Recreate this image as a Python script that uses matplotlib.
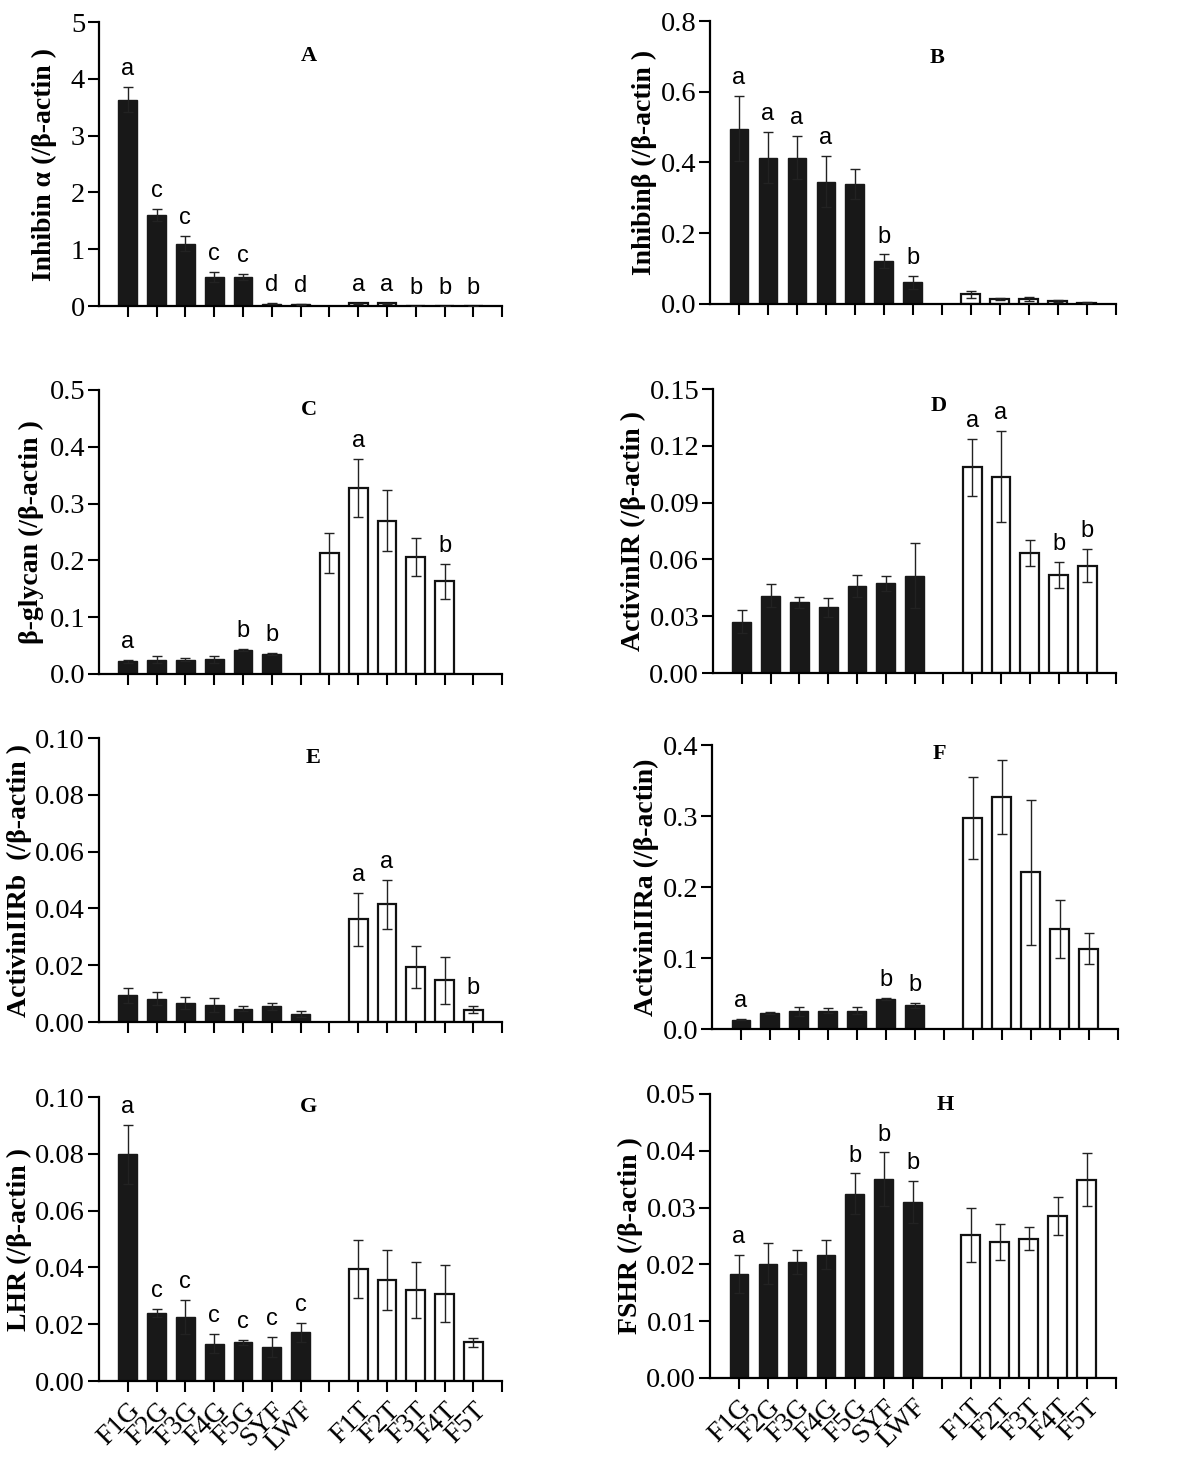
import numpy as np
import matplotlib
matplotlib.use("Agg")
import matplotlib.pyplot as plt
from matplotlib.ticker import FormatStrFormatter

# group names
black_names = ["F1G", "F2G", "F3G", "F4G", "F5G", "SYF", "LWF"]
white_names = ["F1T", "F2T", "F3T", "F4T", "F5T"]

# A  Inhibin alpha
a_black = [3.63, 1.60, 1.10, 0.51, 0.51, 0.04, 0.03]
a_black_err = [0.22, 0.11, 0.13, 0.09, 0.05, 0.01, 0.01]
a_white = [0.05, 0.05, 0.004, 0.004, 0.004]
a_white_err = [0.01, 0.01, 0.002, 0.002, 0.002]
a_black_sig = ["a", "c", "c", "c", "c", "d", "d"]
a_white_sig = ["a", "a", "b", "b", "b"]

# B  Inhibin beta
b_black = [0.495, 0.414, 0.414, 0.346, 0.339, 0.121, 0.061]
b_black_err = [0.092, 0.072, 0.060, 0.072, 0.043, 0.019, 0.018]
b_white = [0.028, 0.013, 0.015, 0.008, 0.004]
b_white_err = [0.010, 0.003, 0.006, 0.003, 0.001]
b_black_sig = ["a", "a", "a", "a", "", "b", "b"]
b_white_sig = ["", "", "", "", ""]

# C  beta-glycan (no LWF bar)
c_black = [0.022, 0.025, 0.025, 0.026, 0.042, 0.035]
c_black_err = [0.002, 0.006, 0.003, 0.006, 0.002, 0.002]
c_white = [0.213, 0.327, 0.270, 0.206, 0.163]
c_white_err = [0.036, 0.051, 0.053, 0.033, 0.031]
c_black_sig = ["a", "", "", "", "b", "b"]
c_white_sig = ["", "a", "", "", "b"]

# D  ActivinIR
d_black = [0.0271, 0.0408, 0.0373, 0.0348, 0.046, 0.0475, 0.0515]
d_black_err = [0.006, 0.006, 0.003, 0.005, 0.006, 0.004, 0.017]
d_white = [0.1087, 0.1037, 0.0633, 0.0517, 0.0568]
d_white_err = [0.015, 0.024, 0.007, 0.007, 0.0086]
d_black_sig = ["", "", "", "", "", "", ""]
d_white_sig = ["a", "a", "", "b", "b"]

# E  ActivinIIRb
e_black = [0.0094, 0.0082, 0.0067, 0.0059, 0.0047, 0.0055, 0.0029]
e_black_err = [0.0027, 0.0022, 0.002, 0.0024, 0.001, 0.0012, 0.001]
e_white = [0.0362, 0.0414, 0.0194, 0.0147, 0.0044]
e_white_err = [0.0093, 0.0086, 0.0074, 0.0082, 0.0013]
e_black_sig = ["", "", "", "", "", "", ""]
e_white_sig = ["a", "a", "", "", "b"]

# F  ActivinIIRa
f_black = [0.013, 0.0225, 0.025, 0.026, 0.026, 0.0427, 0.0333]
f_black_err = [0.001, 0.002, 0.006, 0.003, 0.005, 0.0015, 0.004]
f_white = [0.297, 0.3265, 0.221, 0.1407, 0.113]
f_white_err = [0.058, 0.052, 0.102, 0.041, 0.0216]
f_black_sig = ["a", "", "", "", "", "b", "b"]
f_white_sig = ["", "", "", "", ""]

# G  LHR
g_black = [0.0798, 0.024, 0.0226, 0.0132, 0.0136, 0.0121, 0.0171]
g_black_err = [0.0105, 0.0014, 0.0059, 0.0033, 0.0008, 0.0035, 0.0035]
g_white = [0.0394, 0.0355, 0.032, 0.0308, 0.0136]
g_white_err = [0.0102, 0.0106, 0.0099, 0.010, 0.0016]
g_black_sig = ["a", "c", "c", "c", "c", "c", "c"]
g_white_sig = ["", "", "", "", ""]

# H  FSHR
h_black = [0.0183, 0.0201, 0.0204, 0.0217, 0.0324, 0.035, 0.031]
h_black_err = [0.0034, 0.0036, 0.0021, 0.0026, 0.0036, 0.0047, 0.0037]
h_white = [0.0252, 0.0239, 0.0245, 0.0285, 0.0349]
h_white_err = [0.0047, 0.0032, 0.002, 0.0034, 0.0047]
h_black_sig = ["a", "", "", "", "b", "b", "b"]
h_white_sig = ["", "", "", "", ""]

serif = ["Liberation Serif", "DejaVu Serif"]
sans = ["Liberation Sans", "DejaVu Sans"]

fig = plt.figure(figsize=(12, 14.6), dpi=100)

# panel settings: axes rect, data, y range, ylabel, ylabel x (right edge), letter position
panels = [
    ("A", [0.0825, 0.7904, 0.336, 0.1945], a_black, a_black_err, a_white, a_white_err, a_black_sig, a_white_sig,
     5, 1, "%d", "Inhibin α (/β-actin )", -0.104, (0.52, 0.88)),
    ("B", [0.5917, 0.7918, 0.338, 0.1938], b_black, b_black_err, b_white, b_white_err, b_black_sig, b_white_sig,
     0.8, 0.2, "%.1f", "Inhibinβ (/β-actin )", -0.132, (0.56, 0.87)),
    ("C", [0.0825, 0.5384, 0.336, 0.1945], c_black, c_black_err, c_white, c_white_err, c_black_sig, c_white_sig,
     0.5, 0.1, "%.1f", "β-glycan (/β-actin )", -0.136, (0.52, 0.93)),
    ("D", [0.5942, 0.5390, 0.336, 0.1945], d_black, d_black_err, d_white, d_white_err, d_black_sig, d_white_sig,
     0.15, 0.03, "%.2f", "ActivinIR (/β-actin )", -0.157, (0.56, 0.94)),
    ("E", [0.0825, 0.3000, 0.336, 0.1945], e_black, e_black_err, e_white, e_white_err, e_black_sig, e_white_sig,
     0.10, 0.02, "%.2f", "ActivinIIRb  (/β-actin )", -0.129, (0.53, 0.93)),
    ("F", [0.5933, 0.2952, 0.338, 0.1945], f_black, f_black_err, f_white, f_white_err, f_black_sig, f_white_sig,
     0.4, 0.1, "%.1f", "ActivinIIRa (/β-actin)", -0.113, (0.56, 0.97)),
    ("G", [0.0825, 0.0541, 0.336, 0.1945], g_black, g_black_err, g_white, g_white_err, g_black_sig, g_white_sig,
     0.10, 0.02, "%.2f", "LHR (/β-actin )", -0.155, (0.52, 0.965)),
    ("H", [0.5917, 0.0562, 0.338, 0.1945], h_black, h_black_err, h_white, h_white_err, h_black_sig, h_white_sig,
     0.05, 0.01, "%.2f", "FSHR (/β-actin )", -0.137, (0.58, 0.96)),
]

axes_list = []
for (letter, rect, bv, be, wv, we, bs, ws, ymax, ystep, fmt, ylab, labx, lpos) in panels:
    ax = fig.add_axes(rect)
    bpos = np.arange(1, len(bv) + 1)
    wpos = bpos[-1] + 2 + np.arange(len(wv))

    ax.bar(bpos, bv, width=0.65, color="#181818", edgecolor="#181818", linewidth=1.0, zorder=2)
    ax.errorbar(bpos, bv, yerr=be, fmt="none", ecolor="#222222", elinewidth=1.0,
                capsize=3.5, capthick=1.0, zorder=3)
    ax.bar(wpos, wv, width=0.65, color="white", edgecolor="#111111", linewidth=1.6, zorder=2)
    ax.errorbar(wpos, wv, yerr=we, fmt="none", ecolor="#222222", elinewidth=1.0,
                capsize=3.5, capthick=1.0, zorder=3)

    # significance letters
    for x, v, e, s in list(zip(bpos, bv, be, bs)) + list(zip(wpos, wv, we, ws)):
        if s:
            ax.annotate(s, (x, v + e), xytext=(0, 5), textcoords="offset points",
                        ha="center", va="bottom", fontsize=17, family=sans)

    ax.set_xlim(0, 14)
    ax.set_ylim(0, ymax)
    ax.set_yticks(np.arange(0, ymax + ystep / 2, ystep))
    ax.yaxis.set_major_formatter(FormatStrFormatter(fmt))
    ax.set_xticks(np.arange(1, 15))
    if letter in ("G", "H"):
        ax.set_xticklabels(black_names + [""] + white_names + [""], rotation=45,
                           ha="right", va="top", rotation_mode="anchor",
                           fontsize=20, family=serif)
    else:
        ax.set_xticklabels([])

    for sp in ["top", "right"]:
        ax.spines[sp].set_visible(False)
    for sp in ["left", "bottom"]:
        ax.spines[sp].set_linewidth(1.6)
    ax.tick_params(axis="both", direction="out", length=8, width=1.5)
    ax.tick_params(axis="y", labelsize=20.5, pad=2)
    ax.tick_params(axis="x", pad=4)
    for t in ax.get_yticklabels():
        t.set_family(serif)

    ax.set_ylabel(ylab, fontsize=20, fontweight="bold", family=serif)
    ax.text(lpos[0], lpos[1], letter, transform=ax.transAxes, ha="center", va="center",
            fontsize=16, fontweight="bold", family=serif)
    axes_list.append((ax, labx))

# keep y labels left of the tick numbers
fig.canvas.draw()
renderer = fig.canvas.get_renderer()
for ax, labx in axes_list:
    box = ax.get_window_extent(renderer)
    left = min(t.get_window_extent(renderer).x0 for t in ax.get_yticklabels() if t.get_text())
    limit = (left - 3 - box.x0) / box.width
    ax.yaxis.set_label_coords(min(labx, limit), 0.5)

fig.savefig("out.png", dpi=100)
